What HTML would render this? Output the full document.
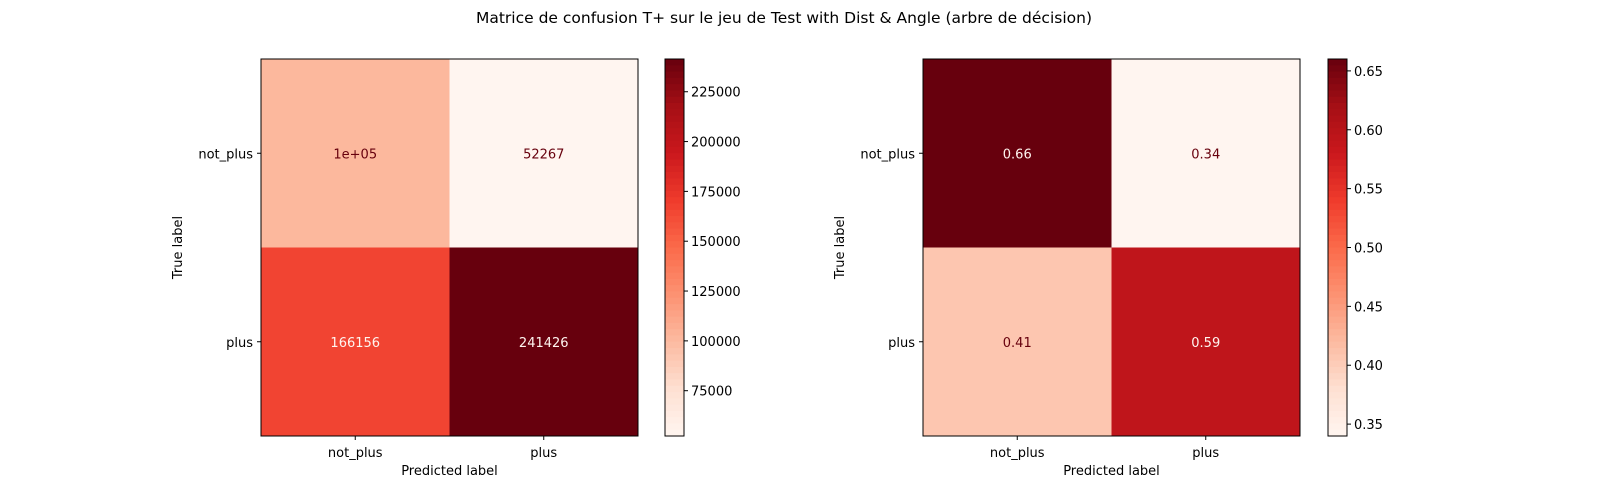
<!DOCTYPE html>
<html><head><meta charset="utf-8"><style>
html,body{margin:0;padding:0;background:#fff;}
svg{display:block;font-family:"DejaVu Sans","Liberation Sans",sans-serif;}
</style></head><body>
<svg id="fig" width="1600" height="500" viewBox="0 0 1600 500" xmlns="http://www.w3.org/2000/svg">
<rect width="1600" height="500" fill="#fff"/>
<text x="784" y="23" text-anchor="middle" font-size="15.5" fill="#000">Matrice de confusion T+ sur le jeu de Test with Dist &amp; Angle (arbre de décision)</text>
</svg>
<script>
const classLabels = ["not_plus", "plus"];
const countValues = [101500, 52267, 166156, 241426];
const countLabels = ["1e+05", "52267", "166156", "241426"];
const normValues = [0.6601, 0.3399, 0.4077, 0.5923];
const normLabels = ["0.66", "0.34", "0.41", "0.59"];
const countTicks = [75000, 100000, 125000, 150000, 175000, 200000, 225000];
const normTicks = [0.35, 0.40, 0.45, 0.50, 0.55, 0.60, 0.65];
const normTickLabels = ["0.35", "0.40", "0.45", "0.50", "0.55", "0.60", "0.65"];

const NS = "http://www.w3.org/2000/svg";
const svg = document.getElementById("fig");
const stops = ["#fff5f0","#fee0d2","#fcbba1","#fc9272","#fb6a4a","#ef3b2c","#cb181d","#a50f15","#67000d"];
function hex(h){return [1,3,5].map(i=>parseInt(h.substr(i,2),16));}
function reds(t){t=Math.max(0,Math.min(1,t));const p=t*8,i=Math.min(7,Math.floor(p)),f=p-i;const a=hex(stops[i]),b=hex(stops[i+1]);return "rgb("+a.map((v,k)=>Math.round(v+(b[k]-v)*f)).join(",")+")";}
function el(tag,attrs,parent){const e=document.createElementNS(NS,tag);for(const k in attrs)e.setAttribute(k,attrs[k]);(parent||svg).appendChild(e);return e;}

function panel(x0, values, labels, ticks, tickLabels, cbx, name){
  const top=59, size=377, cell=size/2, bottom=top+size;
  const g=el("g",{});
  
  
  const mn=Math.min(...values), mx=Math.max(...values), thr=(mn+mx)/2;
  const norm=v=>(v-mn)/(mx-mn);
  values.forEach((v,i)=>{
    const r=Math.floor(i/2), c=i%2;
    const rc=el("rect",{x:x0+c*cell,y:top+r*cell,width:cell+0.5,height:cell+0.5,fill:reds(norm(v))},g);
    
    
    const t=el("text",{x:x0+c*cell+cell/2,y:top+r*cell+cell/2+5,"text-anchor":"middle","font-size":"13",fill:v>=thr?"#fff5f0":"#67000d"},g);
    t.textContent=labels[i];
    
    
  });
  el("rect",{x:x0,y:top,width:size,height:size,fill:"none",stroke:"#000","stroke-width":1},g);
  classLabels.forEach((l,i)=>{
    const cx=x0+cell*i+cell/2, cy=top+cell*i+cell/2;
    el("line",{x1:cx,x2:cx,y1:bottom,y2:bottom+4,stroke:"#000"},g);
    const tx=el("text",{x:cx,y:bottom+21,"text-anchor":"middle","font-size":"13"},g);tx.textContent=l;
    
    
    el("line",{x1:x0-4,x2:x0,y1:cy,y2:cy,stroke:"#000"},g);
    const ty=el("text",{x:x0-8,y:cy+5,"text-anchor":"end","font-size":"13"},g);ty.textContent=l;
    
    
  });
  const xl=el("text",{x:x0+size/2,y:bottom+39,"text-anchor":"middle","font-size":"13"},g);xl.textContent="Predicted label";
  
  
  const yl=el("text",{x:0,y:0,"text-anchor":"middle","font-size":"13",transform:`translate(${x0-79},${top+size/2}) rotate(-90)`},g);yl.textContent="True label";
  
  
  // colorbar
  const cw=19, n=60;
  const cy=v=>bottom-(v-mn)/(mx-mn)*size;
  for(let k=0;k<n;k++){el("rect",{x:cbx,y:top+k*size/n,width:cw,height:size/n+0.6,fill:reds(1-(k+0.5)/n)},g);}
  const cb=el("rect",{x:cbx,y:top,width:cw,height:size,fill:"none",stroke:"#000"},g);
  
  
  ticks.forEach((t,i)=>{
    const y=cy(t);
    el("line",{x1:cbx+cw,x2:cbx+cw+4,y1:y,y2:y,stroke:"#000"},g);
    const tt=el("text",{x:cbx+cw+7,y:y+5,"font-size":"13"},g);tt.textContent=tickLabels[i];
    
    
  });
}
panel(261, countValues, countLabels, countTicks, countTicks.map(String), 665, "count-matrix-panel");
panel(923, normValues, normLabels, normTicks, normTickLabels, 1328, "normalized-matrix-panel");
</script>
</body></html>
